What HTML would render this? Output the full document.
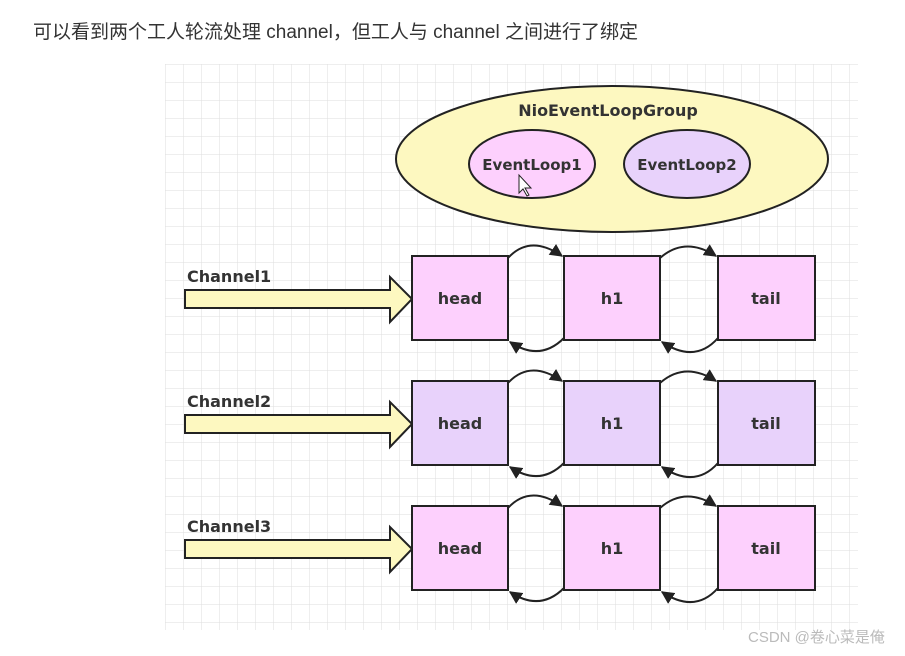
<!DOCTYPE html>
<html><head><meta charset="utf-8"><style>
body{margin:0;background:#fff;width:905px;height:651px;overflow:hidden}
</style></head><body>
<svg width="905" height="651" viewBox="0 0 905 651" xmlns="http://www.w3.org/2000/svg">
<defs>
<pattern id="g" x="165" y="64" width="18" height="18" patternUnits="userSpaceOnUse">
<path d="M0 0H18M0 0V18" stroke="#dedede" stroke-width="1" fill="none"/>
</pattern>
<marker id="ah" viewBox="0 0 10 10" refX="9" refY="5" markerWidth="6.5" markerHeight="6.5" orient="auto"><path d="M0 0L10 5L0 10z" fill="#222"/></marker>
</defs>
<text x="33" y="38" font-family="'Liberation Sans','Noto Sans CJK SC',sans-serif" font-size="19" fill="#333">可以看到两个工人轮流处理 channel，但工人与 channel 之间进行了绑定</text>
<rect x="165" y="64" width="693" height="566" fill="url(#g)"/>
<ellipse cx="612" cy="159" rx="216" ry="73" fill="#fdf8c0" stroke="#222" stroke-width="2"/>
<text x="608" y="116" text-anchor="middle" font-family="'DejaVu Sans',sans-serif" font-weight="bold" font-size="16" fill="#333">NioEventLoopGroup</text>
<ellipse cx="532" cy="164" rx="63" ry="34" fill="#fdd0fd" stroke="#222" stroke-width="2"/>
<text x="532" y="170" text-anchor="middle" font-family="'DejaVu Sans',sans-serif" font-weight="bold" font-size="15" fill="#333">EventLoop1</text>
<ellipse cx="687" cy="164" rx="63" ry="34" fill="#e8d2fb" stroke="#222" stroke-width="2"/>
<text x="687" y="170" text-anchor="middle" font-family="'DejaVu Sans',sans-serif" font-weight="bold" font-size="15" fill="#333">EventLoop2</text>
<path d="M519 175L519 193L523 189L527 196L529 195L525 188L531 188Z" fill="#fff" stroke="#222" stroke-width="1"/>
<g font-family="'DejaVu Sans',sans-serif" font-weight="bold" font-size="16" fill="#333">
<g>
<text x="187" y="282">Channel1</text>
<path d="M185 290H390V277L412 299L390 322V308H185Z" fill="#fdf8c0" stroke="#222" stroke-width="2"/>
<rect x="412" y="256" width="96" height="84" fill="#fdd0fd" stroke="#222" stroke-width="2"/>
<rect x="564" y="256" width="96" height="84" fill="#fdd0fd" stroke="#222" stroke-width="2"/>
<rect x="718" y="256" width="97" height="84" fill="#fdd0fd" stroke="#222" stroke-width="2"/>
<text x="460" y="304" text-anchor="middle">head</text>
<text x="612" y="304" text-anchor="middle">h1</text>
<text x="766" y="304" text-anchor="middle">tail</text>
<path d="M508 258Q530 234 562 256" fill="none" stroke="#222" stroke-width="2" marker-end="url(#ah)"/>
<path d="M564 338Q540 362 510 342" fill="none" stroke="#222" stroke-width="2" marker-end="url(#ah)"/>
<path d="M660 258Q685 236 716 256" fill="none" stroke="#222" stroke-width="2" marker-end="url(#ah)"/>
<path d="M718 338Q695 364 662 342" fill="none" stroke="#222" stroke-width="2" marker-end="url(#ah)"/>
</g>
<g transform="translate(0,125)">
<text x="187" y="282">Channel2</text>
<path d="M185 290H390V277L412 299L390 322V308H185Z" fill="#fdf8c0" stroke="#222" stroke-width="2"/>
<rect x="412" y="256" width="96" height="84" fill="#e8d2fb" stroke="#222" stroke-width="2"/>
<rect x="564" y="256" width="96" height="84" fill="#e8d2fb" stroke="#222" stroke-width="2"/>
<rect x="718" y="256" width="97" height="84" fill="#e8d2fb" stroke="#222" stroke-width="2"/>
<text x="460" y="304" text-anchor="middle">head</text>
<text x="612" y="304" text-anchor="middle">h1</text>
<text x="766" y="304" text-anchor="middle">tail</text>
<path d="M508 258Q530 234 562 256" fill="none" stroke="#222" stroke-width="2" marker-end="url(#ah)"/>
<path d="M564 338Q540 362 510 342" fill="none" stroke="#222" stroke-width="2" marker-end="url(#ah)"/>
<path d="M660 258Q685 236 716 256" fill="none" stroke="#222" stroke-width="2" marker-end="url(#ah)"/>
<path d="M718 338Q695 364 662 342" fill="none" stroke="#222" stroke-width="2" marker-end="url(#ah)"/>
</g>
<g transform="translate(0,250)">
<text x="187" y="282">Channel3</text>
<path d="M185 290H390V277L412 299L390 322V308H185Z" fill="#fdf8c0" stroke="#222" stroke-width="2"/>
<rect x="412" y="256" width="96" height="84" fill="#fdd0fd" stroke="#222" stroke-width="2"/>
<rect x="564" y="256" width="96" height="84" fill="#fdd0fd" stroke="#222" stroke-width="2"/>
<rect x="718" y="256" width="97" height="84" fill="#fdd0fd" stroke="#222" stroke-width="2"/>
<text x="460" y="304" text-anchor="middle">head</text>
<text x="612" y="304" text-anchor="middle">h1</text>
<text x="766" y="304" text-anchor="middle">tail</text>
<path d="M508 258Q530 234 562 256" fill="none" stroke="#222" stroke-width="2" marker-end="url(#ah)"/>
<path d="M564 338Q540 362 510 342" fill="none" stroke="#222" stroke-width="2" marker-end="url(#ah)"/>
<path d="M660 258Q685 236 716 256" fill="none" stroke="#222" stroke-width="2" marker-end="url(#ah)"/>
<path d="M718 338Q695 364 662 342" fill="none" stroke="#222" stroke-width="2" marker-end="url(#ah)"/>
</g>
</g>
<text x="748" y="642" font-family="'Liberation Sans','Noto Sans CJK SC',sans-serif" font-size="15" fill="#bbb">CSDN @卷心菜是俺</text>
</svg>
</body></html>
